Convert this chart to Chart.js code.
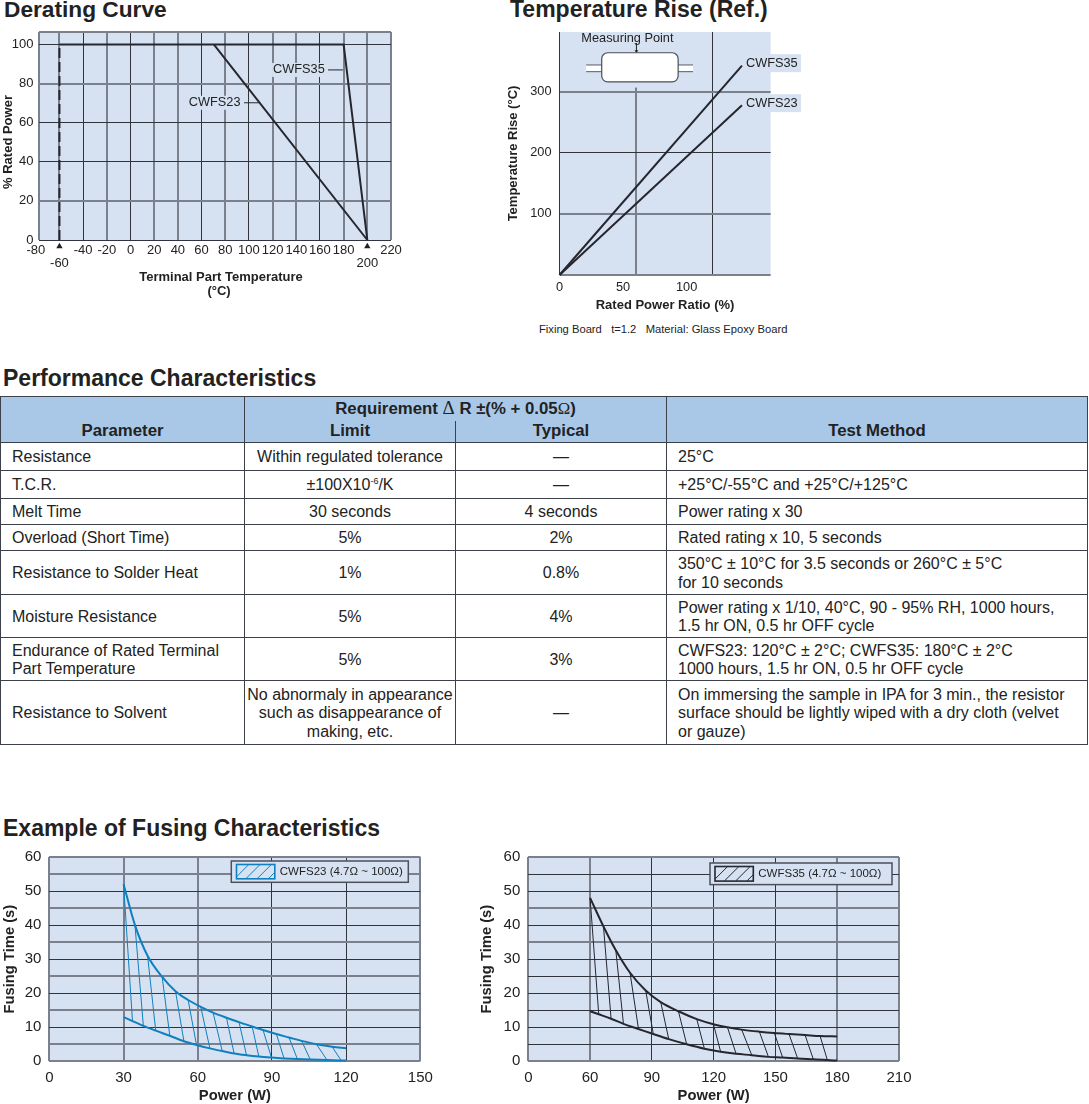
<!DOCTYPE html>
<html>
<head>
<meta charset="utf-8">
<script src="https://cdn.jsdelivr.net/npm/chart.js@4/dist/chart.umd.min.js"></script>
<style>
html,body{margin:0;padding:0;background:#fff;}
body{position:relative;width:1089px;height:1104px;overflow:hidden;font-family:"Liberation Sans",Arial,sans-serif;color:#222;}
canvas{position:absolute;display:block;}
.h{position:absolute;font-weight:bold;font-size:23px;line-height:26px;white-space:pre;color:#222;}
#note{position:absolute;left:539px;top:322px;font-size:11.2px;line-height:14px;white-space:pre;color:#222;}
table{position:absolute;left:0;top:396px;width:1087px;border-collapse:collapse;table-layout:fixed;font-size:16px;line-height:18.5px;}
td,th{border:1px solid #3c4048;padding:0;text-align:center;vertical-align:middle;}
td{padding-top:2px;}
th{background:#a9c8e8;font-size:16.8px;font-weight:bold;vertical-align:bottom;padding-bottom:2px;line-height:18px;}
td.l{text-align:left;padding-left:11px;}
th.nb{border-bottom:none;}
th.nt{border-top:none;}
.sy{font-family:"Liberation Serif",serif;font-weight:normal;}
sup{font-size:9px;line-height:0;}
</style>
</head>
<body>
<div class="h" style="left:4px;top:-4px;font-size:22.7px">Derating Curve</div>
<div class="h" style="left:510px;top:-4px">Temperature Rise (Ref.)</div>
<canvas id="c1" width="420" height="290" style="left:0;top:20px"></canvas>
<canvas id="c2" width="310" height="300" style="left:500px;top:20px"></canvas>
<div id="note">Fixing Board   t=1.2   Material: Glass Epoxy Board</div>
<div class="h" style="left:3px;top:365px">Performance Characteristics</div>
<table id="perf"></table>
<div class="h" style="left:3px;top:815px">Example of Fusing Characteristics</div>
<canvas id="c3" width="440" height="262" style="left:0;top:845px"></canvas>
<canvas id="c4" width="450" height="262" style="left:470px;top:845px"></canvas>
<script>
// ---- Derating curve data
const derateEdge = -77.7;
const derateTicksX = [-80,derateEdge,-60,-40,-20,0,20,40,60,80,100,120,140,160,180,200,220];
const derateTicksY = [0,20,40,60,80,100,106.4];
const deratedCWFS35X = [-60,180,200];
const deratedCWFS35Y = [100,100,0];
const deratedCWFS23X = [70.5,200];
const deratedCWFS23Y = [100,0];
const dashedLimitX = [-60,-60];
const dashedLimitY = [0,100];
const markerX = [-60,200];
const markerY = [-2.9,-2.9];
// ---- Temperature rise data
const riseTicksX = [0,50,60,100,120,166];
const riseTicksY = [0,100,200,300,398];
const riseRatioX = [0,143.5];
const riseCWFS35 = [0,343];
const riseCWFS23 = [0,278];
// ---- Fusing data: CWFS23
const fuse23TicksX = [0,30,60,90,120,150];
const fuseTicksY = [0,5,10,15,20,25,30,35,40,45,50,55,60];
const fuse23UpperX = [30,34.6,39.7,45.6,51,56.1,61.2,66.2,71.6,76.7,82,86.4,91.8,96.9,102,108,114.3,120];
const fuse23UpperY = [52,40,31,24.8,20.6,18,16,14.3,12.8,11.5,10.2,9.2,8,7,6,5,4.3,3.8];
const fuse23LowerX = [30,33.6,38,43,48.7,54.4,59.5,64.9,69.9,74.7,79.7,84.7,89.8,94.9,100.3,105.5,112.3,118,120];
const fuse23LowerY = [13,11.8,10.4,9,7.5,5.9,4.8,3.8,3,2.3,1.8,1.4,1.1,0.85,0.65,0.5,0.35,0.25,0.2];
// ---- Fusing data: CWFS35 (first tick position carries the label 0)
const fuse35TicksX = [30,60,90,120,150,180,210];
const fuse35UpperX = [60,66.5,72.5,79.4,87,94.3,102.9,111.8,119.9,126.7,133.6,142.2,149.5,156.6,164.4,171.7,180];
const fuse35UpperY = [48,39.6,32.6,26,20.8,17.4,14.7,12.4,10.9,10,9.3,8.7,8.3,8,7.7,7.4,7.3];
const fuse35LowerX = [60,64.2,70.2,76.2,83.5,90.7,98.2,106.9,115.5,123.4,130.9,138.5,146.6,153.5,160.8,168.4,175.2,180];
const fuse35LowerY = [14.7,13.8,12.5,11,9.5,8,6.5,5,3.7,2.8,2.2,1.8,1.3,1.1,0.8,0.6,0.4,0.2];
// ---- Table
const tableColumns = [244,211,211,421];
const tableRows = [
 ['Resistance','Within regulated tolerance','—','25°C'],
 ['T.C.R.','±100X10<sup>-6</sup>/K','—','+25°C/-55°C and +25°C/+125°C'],
 ['Melt Time','30 seconds','4 seconds','Power rating x 30'],
 ['Overload (Short Time)','5%','2%','Rated rating x 10, 5 seconds'],
 ['Resistance to Solder Heat','1%','0.8%','350°C ± 10°C for 3.5 seconds or 260°C ± 5°C<br>for 10 seconds'],
 ['Moisture Resistance','5%','4%','Power rating x 1/10, 40°C, 90 - 95% RH, 1000 hours,<br>1.5 hr ON, 0.5 hr OFF cycle'],
 ['Endurance of Rated Terminal<br>Part Temperature','5%','3%','CWFS23: 120°C ± 2°C; CWFS35: 180°C ± 2°C<br>1000 hours, 1.5 hr ON, 0.5 hr OFF cycle'],
 ['Resistance to Solvent','No abnormaly in appearance<br>such as disappearance of<br>making, etc.','—','On immersing the sample in IPA for 3 min., the resistor<br>surface should be lightly wiped with a dry cloth (velvet<br>or gauze)']
];
const tableRowHeights = [28,28,26,26,44,43,43,64];

document.getElementById('perf').innerHTML =
 '<colgroup>'+tableColumns.map(w=>`<col style="width:${w}px">`).join('')+'</colgroup>'+
 '<tr style="height:24px"><th rowspan="2">Parameter</th><th colspan="2" class="nb" style="vertical-align:middle;padding:0">Requirement <span class="sy" style="font-size:19px">Δ</span> R ±(% + 0.05<span class="sy">Ω</span>)</th><th rowspan="2">Test Method</th></tr>'+
 '<tr style="height:22px"><th class="nt">Limit</th><th class="nt">Typical</th></tr>'+
 tableRows.map((r,i)=>`<tr style="height:${tableRowHeights[i]}px"><td class="l">${r[0]}</td><td>${r[1]}</td><td>${r[2]}</td><td class="l">${r[3]}</td></tr>`).join('');

const PLOT_BG = '#d6e2f2', DARK = '#30343c', SOFT = '#7b818c', INK = '#222', LINE = '#26262e', BLUE = '#0f80bf';
const pts = (xs,ys)=>xs.map((x,i)=>({x,y:ys[i]}));
const FONT = 'Liberation Sans';

function text(ctx,str,x,y,font,align,rot){
  ctx.save();ctx.font=font;ctx.fillStyle=INK;ctx.textAlign=align||'left';ctx.textBaseline='middle';
  ctx.translate(x,y);if(rot)ctx.rotate(rot);ctx.fillText(str,0,0);ctx.restore();
}
const plotBg = {id:'plotBg',beforeDraw(ch){const a=ch.chartArea,c=ch.ctx;c.save();c.fillStyle=PLOT_BG;c.fillRect(a.left,a.top,a.right-a.left,a.bottom-a.top);c.restore();}};

function hatch(ux,uy,lx,ly){
  const out=[];
  for(let i=0;i<ux.length-1;i++){out.push({x:ux[i],y:uy[i]},{x:lx[i+1],y:ly[i+1]},{x:ux[i],y:null});}
  return out;
}
function gridOf(soft,hidden){
  hidden=hidden||[];
  return {
    drawTicks:false,
    color:c=>hidden.includes(c.tick.value)?'rgba(0,0,0,0)':soft.includes(c.tick.value)?SOFT:DARK,
    lineWidth:c=>soft.includes(c.tick.value)?2:1
  };
}
function scaleOf(o){
  const s={type:'linear',min:o.min,max:o.max,border:{display:false},grid:gridOf(o.soft,o.hidden),
    afterBuildTicks(sc){sc.ticks=o.ticks.map(v=>({value:v}));},
    ticks:{autoSkip:false,maxRotation:0,minRotation:0,color:INK,padding:o.pad,font:{family:FONT,size:o.size,lineHeight:o.lh||1.2},callback:o.label},
    title:o.title||{display:false}};
  s.afterFit=sc=>{
    if(o.width!==undefined)sc.width=o.width;
    if(o.height!==undefined)sc.height=o.height;
    sc.paddingTop=sc.paddingBottom=sc.paddingLeft=sc.paddingRight=0;
  };
  return s;
}
function make(id,box,x,y,datasets,plugins){
  return new Chart(document.getElementById(id),{type:'line',data:{datasets},
    options:{responsive:false,animation:false,parsing:true,
      layout:{padding:{top:box.top,right:box.right,left:0,bottom:0}},
      plugins:{legend:{display:false},tooltip:{enabled:false},title:{display:false}},
      elements:{point:{radius:0}},
      scales:{x,y}},
    plugins:[plotBg].concat(plugins||[])});
}
const line=(data,color,width,extra)=>Object.assign({data,borderColor:color,backgroundColor:color,borderWidth:width,pointRadius:0,fill:false,tension:0,clip:false},extra||{});
const curve={cubicInterpolationMode:'monotone'};

// ---------- Derating chart
const labelDerate = {id:'labelDerate',afterDatasetsDraw(ch){
  const c=ch.ctx,X=ch.scales.x,Y=ch.scales.y;
  [['CWFS35',120.4,87],['CWFS23',49.2,70.2]].forEach(([t,vx,vy])=>{
    const px=X.getPixelForValue(vx),py=Y.getPixelForValue(vy);
    c.save();c.font=`12.75px "${FONT}"`;const w=c.measureText(t).width;c.fillStyle=PLOT_BG;c.fillRect(px-1,py-7,w+2,14);c.restore();
    text(c,t,px,py,`12.75px "${FONT}"`);
  });
  // range markers under the axis
  c.save();c.fillStyle=INK;
  markerX.forEach((v,i)=>{
    const px=X.getPixelForValue(v),py=Y.getPixelForValue(markerY[i]);
    c.beginPath();c.moveTo(px,py-3);c.lineTo(px+3.2,py+2.5);c.lineTo(px-3.2,py+2.5);c.closePath();c.fill();
  });
  c.restore();
  // axis titles sit slightly off the plot centre in the reference
  const F=`bold 13px "${FONT}"`;
  text(c,'Terminal Part Temperature',221,257.7,F,'center');
  text(c,'(°C)',219,271.7,F,'center');
  text(c,'% Rated Power',8,122,F,'center',-Math.PI/2);
}};
make('c1',{top:12,right:29},
  scaleOf({min:derateEdge,max:220,ticks:derateTicksX,soft:[derateEdge,-60,-20,20,40,80,120,140,180,200,220],hidden:[-80],pad:4,size:13,lh:1,height:70,
    label:v=>(v===-60||v===200)?['',String(v)]:(v===derateEdge?'':String(v))}),
  scaleOf({min:0,max:106.4,ticks:derateTicksY,soft:[80,20,106.4],pad:5,size:13,width:38.5,label:v=>v>100?'':String(v)}),
  [
   line(pts(deratedCWFS35X,deratedCWFS35Y),LINE,2),
   line(pts(deratedCWFS23X,deratedCWFS23Y),LINE,2),
   line(pts(dashedLimitX,dashedLimitY),LINE,2,{borderDash:[10,4]}),
   line(pts([166.8,179.4],[87,87]),LINE,1),
   line(pts([95.9,108.5],[70.2,70.2]),LINE,1)
  ],[labelDerate]);

// ---------- Temperature rise chart
const figure = {id:'figure',beforeDatasetsDraw(ch){
  const c=ch.ctx,X=ch.scales.x,Y=ch.scales.y,px=v=>X.getPixelForValue(v),py=v=>Y.getPixelForValue(v);
  c.save();
  c.fillStyle=PLOT_BG;c.fillRect(px(50),ch.chartArea.top,px(70)-px(50),py(307)-ch.chartArea.top);
  // leads
  c.fillStyle='#fff';c.fillRect(px(21),py(344),px(105)-px(21),py(333)-py(344));
  c.strokeStyle='#555b66';c.lineWidth=1;
  [344,333].forEach(v=>{c.beginPath();c.moveTo(px(21),py(v));c.lineTo(px(105),py(v));c.stroke();});
  // body
  c.beginPath();c.roundRect(px(33.2),py(364),px(93.3)-px(33.2),py(316.4)-py(364),6);c.fillStyle='#fff';c.fill();c.strokeStyle='#4a4f59';c.lineWidth=1.2;c.stroke();
  // arrow
  c.strokeStyle=INK;c.lineWidth=1;c.beginPath();c.moveTo(px(60.5),py(380));c.lineTo(px(60.5),py(366));c.stroke();
  c.fillStyle=INK;c.beginPath();c.moveTo(px(60.5)-2,py(368));c.lineTo(px(60.5)+2,py(368));c.lineTo(px(60.5),py(364));c.closePath();c.fill();
  c.restore();
  text(c,'Measuring Point',px(60.5)-9,py(388),`12.75px "${FONT}"`,'center');
}, afterDatasetsDraw(ch){
  const c=ch.ctx,X=ch.scales.x,Y=ch.scales.y;
  [['CWFS35',347],['CWFS23',281.5]].forEach(([t,v])=>{
    const l=X.getPixelForValue(146.6),p=Y.getPixelForValue(v);
    c.save();c.fillStyle=PLOT_BG;c.fillRect(l-3,p-9,58,18);c.restore();
    text(c,t,l,p,`12.75px "${FONT}"`);
  });
}};
make('c2',{top:12,right:39.4},
  scaleOf({min:0,max:166,ticks:riseTicksX,soft:[60],hidden:[50,100,166],pad:5,size:12.75,height:45,
    label:v=>[0,50,100].includes(v)?String(v):'',
    title:{display:true,text:'Rated Power Ratio (%)',color:INK,font:{family:FONT,size:13,weight:'bold'},padding:{top:0,bottom:7}}}),
  scaleOf({min:0,max:398,ticks:riseTicksY,soft:[0,100,300],hidden:[398],pad:8,size:12.75,width:59.5,
    label:v=>[100,200,300].includes(v)?String(v):'',
    title:{display:true,text:'Temperature Rise (°C)',color:INK,font:{family:FONT,size:13,weight:'bold'},padding:{top:6,bottom:0}}}),
  [ line(pts(riseRatioX,riseCWFS35),LINE,2), line(pts(riseRatioX,riseCWFS23),LINE,2) ],[figure]);

// ---------- Fusing charts
function fuseLegend(label,color,r,t,w,h,swOff,swW){
  return {id:'fuseLegend',afterDatasetsDraw(ch){
    const c=ch.ctx,a=ch.chartArea,L=a.right-r-w,T=a.top+t;
    c.save();
    c.fillStyle=PLOT_BG;c.fillRect(L,T,w,h);
    c.strokeStyle='#4b5059';c.lineWidth=1.5;c.strokeRect(L,T,w,h);
    const sx=L+swOff,sy=T+3.5,sh=h-7;
    c.save();c.beginPath();c.rect(sx,sy,swW,sh);c.clip();
    c.strokeStyle=color;c.lineWidth=1;
    for(let k=0;k<4;k++){const b=sx+k*swW/3.4-2;c.beginPath();c.moveTo(b,sy+sh);c.lineTo(b+sh,sy);c.stroke();}
    c.restore();
    c.strokeStyle=color;c.lineWidth=1.6;c.strokeRect(sx,sy,swW,sh);
    c.restore();
    text(c,label,sx+swW+5,T+h/2,`11.5px "${FONT}"`);
  }};
}
const fuseTitleX=pad=>({display:true,text:'Power (W)',color:INK,font:{family:FONT,size:14.75,weight:'bold'},padding:{top:0,bottom:pad}});
const fuseTitleY=pad=>({display:true,text:'Fusing Time (s)',color:INK,font:{family:FONT,size:14.75,weight:'bold'},padding:{top:pad,bottom:0}});

make('c3',{top:12,right:19.7},
  scaleOf({min:0,max:150,ticks:fuse23TicksX,soft:[0,30,60,150],pad:8,size:15,height:45.7,label:v=>String(v),title:fuseTitleX(2.5)}),
  scaleOf({min:0,max:60,ticks:fuseTicksY,soft:[0,60,55,45,35,25,15,5],pad:8,size:15,width:49.4,label:v=>v%10===0?String(v):'',title:fuseTitleY(1)}),
  [
   line(pts(fuse23UpperX,fuse23UpperY),BLUE,2,curve),
   line(pts(fuse23LowerX,fuse23LowerY),BLUE,2,curve),
   line(hatch(fuse23UpperX,fuse23UpperY,fuse23LowerX,fuse23LowerY),BLUE,1,{spanGaps:false})
  ],[fuseLegend('CWFS23 (4.7Ω ~ 100Ω)',BLUE,12,4,177,21.3,5.2,38.3)]);

make('c4',{top:12,right:21},
  scaleOf({min:30,max:210,ticks:fuse35TicksX,soft:[30,60,180,210],pad:8,size:15,height:45.7,label:v=>v===30?'0':String(v),title:fuseTitleX(2.5)}),
  scaleOf({min:0,max:60,ticks:fuseTicksY,soft:[0,60,45,35],pad:8,size:15,width:58.3,label:v=>v%10===0?String(v):'',title:fuseTitleY(8)}),
  [
   line(pts(fuse35UpperX,fuse35UpperY),LINE,2,curve),
   line(pts(fuse35LowerX,fuse35LowerY),LINE,2,curve),
   line(hatch(fuse35UpperX,fuse35UpperY,fuse35LowerX,fuse35LowerY),LINE,1,{spanGaps:false})
  ],[fuseLegend('CWFS35 (4.7Ω ~ 100Ω)',LINE,7,6,182,21.6,5,38.3)]);
</script>
</body>
</html>
